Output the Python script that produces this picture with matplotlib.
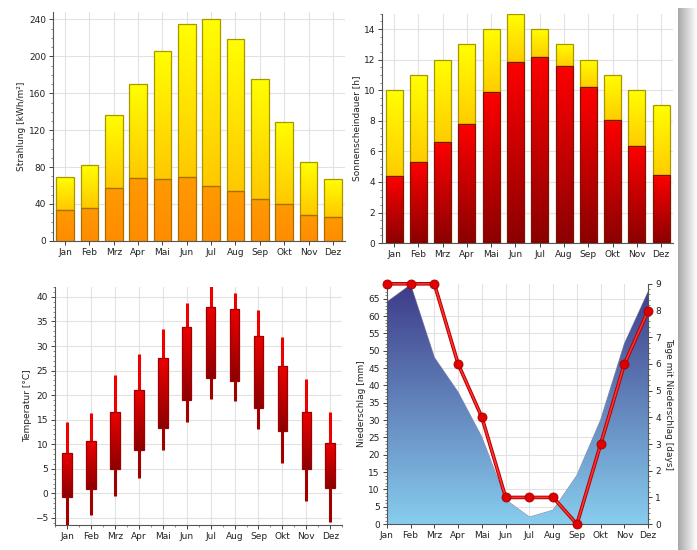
import numpy as np
import matplotlib
matplotlib.use("Agg")
import matplotlib.pyplot as plt
from matplotlib.colors import LinearSegmentedColormap
from matplotlib.ticker import MultipleLocator

months = ["Jan", "Feb", "Mrz", "Apr", "Mai", "Jun", "Jul", "Aug", "Sep", "Okt", "Nov", "Dez"]

# Strahlung [kWh/m²]
strahlung_total = [69, 82, 137, 170, 206, 235, 241, 219, 175, 129, 85, 67]
strahlung_diffus = [34, 36, 57, 68, 67, 69, 59, 54, 45, 40, 28, 26]

# Sonnenscheindauer [h]
sonne_max = [10, 11, 12, 13, 14, 15, 14, 13, 12, 11, 10, 9]
sonne_ist = [4.4, 5.3, 6.6, 7.8, 9.85, 11.85, 12.2, 11.6, 10.2, 8.05, 6.35, 4.45]

# Temperatur [°C]
temp_min = [-6.5, -4.4, -0.6, 3.2, 8.9, 14.5, 19.2, 18.9, 13.1, 6.1, -1.6, -5.8]
temp_low = [-0.7, 0.9, 5.0, 8.8, 13.3, 19.0, 23.4, 22.8, 17.4, 12.6, 5.0, 1.1]
temp_high = [8.3, 10.6, 16.6, 21.0, 27.5, 33.8, 38.0, 37.6, 32.1, 26.0, 16.6, 10.3]
temp_max = [14.5, 16.3, 24.1, 28.3, 33.4, 38.8, 42.5, 40.8, 37.3, 31.9, 23.3, 16.5]

# Niederschlag [mm] and Tage mit Niederschlag
niederschlag = [64, 69, 48, 38, 25, 7, 2, 4, 14, 30, 52, 67]
regentage = [9, 9, 9, 6, 4, 1, 1, 1, 0, 3, 6, 8]

plt.rcParams['font.family'] = ['DejaVu Sans']
FS = 6.5
GRID = '#e2e2e2'
SPINE = '#555555'
TXT = '#222222'

fig = plt.figure(figsize=(6.97, 5.5), dpi=100)
fig.patch.set_facecolor('white')

# right-edge drop shadow of the panel
sh = fig.add_axes([678 / 697, 0.0, 19 / 697, 0.985])
sh.axis('off')
sh.imshow(np.linspace(0, 1, 64).reshape(1, -1), cmap=LinearSegmentedColormap.from_list('s', ['#a8a8a8', '#ffffff']),
          aspect='auto', extent=[0, 1, 0, 1], interpolation='bilinear')


def grad_fill(ax, patch, c_top, c_bot, extent, zorder):
    cmap = LinearSegmentedColormap.from_list('g', [c_bot, c_top])
    im = ax.imshow(np.linspace(0, 1, 256).reshape(-1, 1), extent=extent, origin='lower',
                   cmap=cmap, aspect='auto', zorder=zorder, interpolation='bilinear')
    im.set_clip_path(patch)
    return im


def grad_bars(ax, bars, c_top, c_bot, edge):
    for b in bars:
        x, y, w, h = b.get_x(), b.get_y(), b.get_width(), b.get_height()
        b.set_facecolor('none')
        b.set_edgecolor(edge)
        b.set_linewidth(0.9)
        grad_fill(ax, b, c_top, c_bot, [x, x + w, y, y + h], b.get_zorder() - 0.1)


def style(ax):
    ax.set_facecolor('white')
    for s in ['top', 'right']:
        ax.spines[s].set_visible(False)
    for s in ['left', 'bottom']:
        ax.spines[s].set_color(SPINE)
        ax.spines[s].set_linewidth(0.8)
    ax.tick_params(labelsize=FS, colors=TXT, length=3, width=0.6, pad=2)
    ax.tick_params(which='minor', length=1.5, width=0.5, colors=SPINE)
    ax.grid(True, color=GRID, linewidth=0.8)
    ax.set_axisbelow(True)


x = np.arange(len(months))

# --- Top left: Strahlung
ax1 = fig.add_axes([0.076, 0.562, 0.419, 0.416])
style(ax1)
b_top = ax1.bar(x, np.array(strahlung_total) - np.array(strahlung_diffus), 0.72,
                bottom=strahlung_diffus, zorder=3)
b_bot = ax1.bar(x, strahlung_diffus, 0.72, zorder=3)
grad_bars(ax1, b_top, '#ffff00', '#ffc800', '#a89800')
grad_bars(ax1, b_bot, '#ff9a00', '#ff8c00', '#a87000')
ax1.set_xlim(-0.5, 11.5)
ax1.set_ylim(0, 248)
ax1.set_yticks(np.arange(0, 241, 40))
ax1.yaxis.set_minor_locator(MultipleLocator(10))
ax1.set_xticks(x)
ax1.set_xticklabels(months)
ax1.set_ylabel('Strahlung [kWh/m²]', fontsize=FS, color=TXT, labelpad=2)

# --- Top right: Sonnenscheindauer
ax2 = fig.add_axes([0.548, 0.558, 0.418, 0.417])
style(ax2)
s_top = ax2.bar(x, np.array(sonne_max) - np.array(sonne_ist), 0.7, bottom=sonne_ist, zorder=3)
s_bot = ax2.bar(x, sonne_ist, 0.7, zorder=3)
grad_bars(ax2, s_top, '#ffff00', '#ffcc00', '#a89800')
grad_bars(ax2, s_bot, '#ff0000', '#8b0000', '#7a1500')
ax2.set_xlim(-0.5, 11.5)
ax2.set_ylim(0, 15)
ax2.set_yticks(np.arange(0, 15, 2))
ax2.yaxis.set_minor_locator(MultipleLocator(0.5))
ax2.set_xticks(x)
ax2.set_xticklabels(months)
ax2.set_ylabel('Sonnenscheindauer [h]', fontsize=FS, color=TXT, labelpad=2)

# --- Bottom left: Temperatur
ax3 = fig.add_axes([0.079, 0.045, 0.412, 0.433])
style(ax3)
ax3.vlines(x, temp_high, temp_max, color='#ee0000', linewidth=2.2, zorder=3)
ax3.vlines(x, temp_min, temp_low, color='#a00000', linewidth=2.2, zorder=3)
boxes = ax3.bar(x, np.array(temp_high) - np.array(temp_low), 0.4, bottom=temp_low, zorder=4)
grad_bars(ax3, boxes, '#ee0000', '#8b0000', '#a00000')
ax3.set_xlim(-0.5, 11.5)
ax3.set_ylim(-6.5, 42)
ax3.set_yticks(np.arange(-5, 41, 5))
ax3.yaxis.set_minor_locator(MultipleLocator(1))
ax3.set_xticks(x)
ax3.set_xticklabels(months)
ax3.set_xticks(np.arange(-0.5, 12, 1), minor=True)
ax3.set_ylabel('Temperatur [°C]', fontsize=FS, color=TXT, labelpad=2)

# --- Bottom right: Niederschlag
ax4 = fig.add_axes([0.555, 0.047, 0.375, 0.437])
style(ax4)
ax4.set_xlim(0, 11)
ax4.set_ylim(0, 69.3)
poly = ax4.fill_between(x, niederschlag, 0, color='none', edgecolor='#8a8aaa', linewidth=0.8, zorder=2)
cmap = LinearSegmentedColormap.from_list('b', ['#87cdee', '#3d3a88'])
im = ax4.imshow(np.linspace(0, 1, 256).reshape(-1, 1), extent=[0, 11, 0, 69.3], origin='lower',
                cmap=cmap, aspect='auto', zorder=2, interpolation='bilinear')
im.set_clip_path(poly.get_paths()[0], transform=ax4.transData)
ax4.set_yticks(np.arange(0, 66, 5))
ax4.yaxis.set_minor_locator(MultipleLocator(1))
ax4.set_xticks(x)
ax4.set_xticklabels(months)
ax4.set_ylabel('Niederschlag [mm]', fontsize=FS, color=TXT, labelpad=2)

ax5 = ax4.twinx()
ax5.set_position(ax4.get_position())
ax5.set_ylim(0, 9)
ax5.set_xlim(0, 11)
for s in ['top', 'left', 'bottom']:
    ax5.spines[s].set_visible(False)
ax5.spines['right'].set_color(SPINE)
ax5.spines['right'].set_linewidth(0.8)
ax5.plot(x, regentage, color='#b00000', linewidth=2.6, zorder=5, clip_on=False)
ax5.plot(x, regentage, color='#ff3030', linewidth=1.2, zorder=6, clip_on=False,
         marker='o', markersize=6.5, markerfacecolor='#e00000', markeredgecolor='#a00000',
         markeredgewidth=0.6)
ax5.set_yticks(np.arange(0, 10, 1))
ax5.yaxis.set_minor_locator(MultipleLocator(0.2))
ax5.tick_params(labelsize=FS, colors=TXT, length=3, width=0.6, pad=2)
ax5.tick_params(which='minor', length=1.5, width=0.5, colors=SPINE)
ax5.set_ylabel('Tage mit Niederschlag [days]', fontsize=FS, color=TXT,
               rotation=-90, labelpad=9)

fig.savefig('out.png', dpi=100, facecolor='white')
